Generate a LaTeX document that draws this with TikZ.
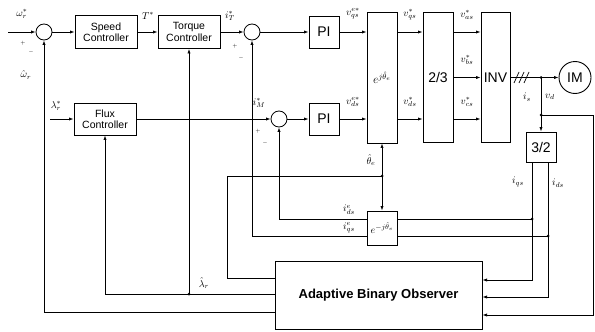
\documentclass[tikz,border=0pt]{standalone}
\usepackage{fontspec}
\setmainfont{Liberation Sans}
\usetikzlibrary{arrows.meta,calc}
\begin{document}
\begin{tikzpicture}[x=1pt,y=-1pt,
  blk/.style={draw,line width=0.9pt,inner sep=0pt,align=center,font=\fontsize{10.5}{11.5}\selectfont},
  bigblk/.style={blk,font=\fontsize{14}{16}\selectfont},
  sumc/.style={circle,draw,line width=0.8pt,minimum size=16pt,inner sep=0pt},
  ln/.style={line width=0.7pt},
  arr/.style={ln,-{Latex[length=4.5pt,width=3.2pt]}},
  lbl/.style={font=\normalsize,inner sep=0pt},
  sgn/.style={font=\tiny,inner sep=0pt},
  dot/.style={circle,fill,inner sep=0pt,minimum size=3pt}]
\useasboundingbox (0,0) rectangle (595,332);

% blocks
\node[sumc] (sum1) at (44,32) {};
\node[blk,minimum width=62pt,minimum height=33pt] (speed) at (106,32) {Speed\\Controller};
\node[blk,minimum width=62pt,minimum height=33pt] (torque) at (189,32) {Torque\\Controller};
\node[sumc] (sum3) at (252,32) {};
\node[bigblk,minimum width=30pt,minimum height=32pt] (pi1) at (324,32) {PI};
\node[blk,minimum width=62pt,minimum height=32pt] (flux) at (105,119) {Flux\\Controller};
\node[sumc] (sum2) at (279,119) {};
\node[bigblk,minimum width=30pt,minimum height=32pt] (pi2) at (324,119) {PI};
\node[blk,minimum width=30pt,minimum height=131pt,font=\large] (ejt) at (382,77.5) {$e^{j\hat\theta_e}$};
\node[bigblk,minimum width=30pt,minimum height=130pt] (tt) at (438,77.5) {2/3};
\node[bigblk,minimum width=29pt,minimum height=130pt] (inv) at (495.5,77.5) {INV};
\node[circle,draw,line width=0.9pt,minimum size=32pt,inner sep=0pt,font=\fontsize{14}{16}\selectfont] (im) at (575,77.5) {IM};
\node[bigblk,minimum width=30pt,minimum height=30pt] (tp) at (541,147) {3/2};
\node[blk,minimum width=30pt,minimum height=34pt,font=\normalsize] (emj) at (382,228) {$e^{-j\hat\theta_e}$};
\node[draw,line width=1pt,minimum width=207pt,minimum height=68pt,font=\fontsize{13}{15}\selectfont\bfseries] (obs) at (378.5,295) {Adaptive Binary Observer};

% coordinates
\coordinate (inw) at (8,32);
\coordinate (inl) at (50,119);
\coordinate (ja) at (541,77.5);
\coordinate (jb) at (541,115);
\coordinate (vr1) at (593,115);
\coordinate (vr2) at (593,315);
\coordinate (q1) at (532,162);
\coordinate (q2) at (532,280);
\coordinate (d1) at (548,162);
\coordinate (d2) at (548,297);
\coordinate (qd) at (532,219);
\coordinate (dd) at (548,236);
\coordinate (th) at (382,176);
\coordinate (th1) at (227,176);
\coordinate (th2) at (227,278);
\coordinate (la1) at (105,294);
\coordinate (la2) at (189,294);
\coordinate (om1) at (44,312);
\coordinate (e1) at (279,219);
\coordinate (e2) at (252,236);

% forward path
\draw[arr] (inw) -- (sum1);
\draw[arr] (sum1) -- (speed);
\draw[arr] (speed) -- (torque);
\draw[arr] (torque) -- (sum3);
\draw[arr] (sum3) -- (pi1);
\draw[arr] (pi1) -- (pi1 -| ejt.west);
\draw[arr] (inl) -- (flux);
\draw[arr] (flux) -- (sum2);
\draw[arr] (sum2) -- (pi2);
\draw[arr] (pi2) -- (pi2 -| ejt.west);
\draw[arr] (ejt.east |- pi1) -- (tt.west |- pi1);
\draw[arr] (ejt.east |- pi2) -- (tt.west |- pi2);
\draw[arr] (tt.east |- pi1) -- (inv.west |- pi1);
\draw[arr] (tt.east) -- (inv.west);
\draw[arr] (tt.east |- pi2) -- (inv.west |- pi2);
\draw[arr] (inv.east) -- (im.west);
\draw[ln] (514,83) -- (519,72) (519,83) -- (524,72) (524,83) -- (529,72);
\node[dot] at (ja) {};
\draw[arr] (ja) -- (tp.north);
\node[dot] at (jb) {};
\draw[arr] (jb) -- (vr1) -- (vr2) -- (obs.east |- vr2);

% 3/2 outputs
\draw[arr] (q1) -- (q2) -- (obs.east |- q2);
\draw[arr] (d1) -- (d2) -- (obs.east |- d2);
\draw[ln] (emj.east |- qd) -- (qd);
\draw[ln] (emj.east |- dd) -- (dd);
\node[dot] at (qd) {};
\node[dot] at (dd) {};

% e^{-j theta} outputs to summers
\draw[arr] (emj.west |- e1) -- (e1) -- (sum2.south);
\draw[arr] (emj.west |- e2) -- (e2) -- (sum3.south);

% theta
\node[dot] at (th) {};
\draw[arr] (th) -- (ejt.south);
\draw[arr] (th) -- (emj.north);
\draw[ln] (th) -- (th1) -- (th2) -- (obs.west |- th2);

% lambda
\draw[arr] (obs.west |- la1) -- (la1) -- (flux.south);
\node[dot] at (la2) {};
\draw[arr] (la2) -- (torque.south);

% omega
\draw[arr] (obs.west |- om1) -- (om1) -- (sum1.south);

% labels
\node[lbl] (lw) at (22,14) {$\omega_r^*$};
\node[sgn] (s1p) at (23,43) {$+$};
\node[sgn] (s1m) at (31,52) {$-$};
\node[lbl] (lwh) at (26,75) {$\hat\omega_r$};
\node[lbl] (lT) at (148,16) {$T^*$};
\node[lbl] (liT) at (230,16) {$i_T^*$};
\node[sgn] (s3p) at (235,46) {$+$};
\node[sgn] (s3m) at (241,58) {$-$};
\node[lbl] (llr) at (56,106) {$\lambda_r^*$};
\node[lbl] (liM) at (259,103) {$i_M^*$};
\node[sgn] (s2p) at (258,131) {$+$};
\node[sgn] (s2m) at (265,143) {$-$};
\node[lbl] (lvq) at (353,14) {$v_{qs}^{e*}$};
\node[lbl] (lvd) at (353,102) {$v_{ds}^{e*}$};
\node[lbl] (lvq2) at (410,15) {$v_{qs}^*$};
\node[lbl] (lvd2) at (410,102) {$v_{ds}^*$};
\node[lbl] (lva) at (467,15) {$v_{as}^*$};
\node[lbl] (lvb) at (467,60) {$v_{bs}^*$};
\node[lbl] (lvc) at (467,102) {$v_{cs}^*$};
\node[lbl] (lis) at (527,97) {$i_s$};
\node[lbl] (lvdd) at (550,97) {$v_d$};
\node[lbl] (liqs) at (518,182) {$i_{qs}$};
\node[lbl] (lids) at (558,183) {$i_{ds}$};
\node[lbl] (lth) at (371,160) {$\hat\theta_e$};
\node[lbl] (lide) at (349,210) {$i_{ds}^e$};
\node[lbl] (liqe) at (349,228) {$i_{qs}^e$};
\node[lbl] (llh) at (204,283) {$\hat\lambda_r$};
\end{tikzpicture}
\end{document}
